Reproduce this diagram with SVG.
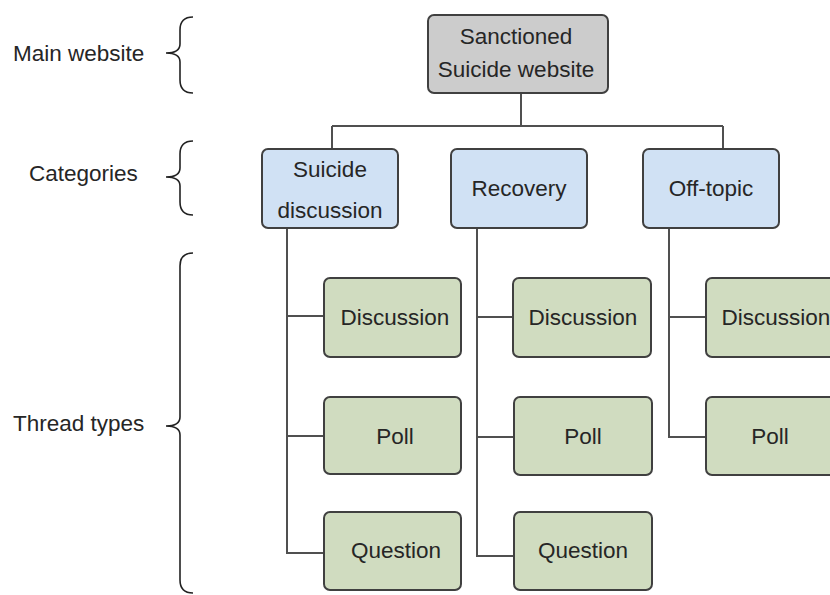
<svg xmlns="http://www.w3.org/2000/svg" width="830" height="595" viewBox="0 0 830 595">
<style>
text{font-family:"Liberation Sans",Arial,sans-serif;font-size:22.5px;fill:#262626;text-anchor:middle}
.lbl{text-anchor:start}
.box{stroke:#404040;stroke-width:2}
.top{fill:#cccccc}
.cat{fill:#d0e1f4}
.thr{fill:#d0dcc0}
.conn{fill:none;stroke:#505050;stroke-width:2}
.brace{fill:none;stroke:#222;stroke-width:1.6}
</style>
<rect width="830" height="595" fill="#ffffff"/>
<g id="labels">
<text class="lbl" x="13" y="61">Main website</text>
<path class="brace" d="M193,17 Q180,17 180,30 L180,44 Q180,53 166,53 Q180,53 180,62 L180,80 Q180,93 193,93"/>
<text class="lbl" x="29" y="181">Categories</text>
<path class="brace" d="M193,141 Q180,141 180,154 L180,168 Q180,177 166,177 Q180,177 180,186 L180,202 Q180,215 193,215"/>
<text class="lbl" x="13" y="431">Thread types</text>
<path class="brace" d="M193,253 Q180,253 180,266 L180,417 Q180,426 166,426 Q180,426 180,435 L180,580 Q180,593 193,593"/>
</g>
<g id="connectors">
<path class="conn" d="M521,93 V126 M332,126 H723 M332,126 V149 M723,126 V149"/>
<path class="conn" d="M287,228 V553 H324 M287,316 H324 M287,436 H324"/>
<path class="conn" d="M477,228 V556 H513 M477,317 H513 M477,437 H513"/>
<path class="conn" d="M669,228 V437 H706 M669,317 H706"/>
</g>
<g id="site">
<rect class="box top" x="428" y="15" width="180" height="78" rx="6"/>
<text x="516" y="44">Sanctioned</text>
<text x="516" y="77">Suicide website</text>
</g>
<g id="cat-suicide">
<rect class="box cat" x="262" y="149" width="136" height="79" rx="6"/>
<text x="330" y="177">Suicide</text>
<text x="330" y="218">discussion</text>
</g>
<g id="cat-recovery">
<rect class="box cat" x="451" y="149" width="136" height="79" rx="6"/>
<text x="519" y="196">Recovery</text>
</g>
<g id="cat-offtopic">
<rect class="box cat" x="643" y="149" width="136" height="79" rx="6"/>
<text x="711" y="196">Off-topic</text>
</g>
<g id="s-discussion">
<rect class="box thr" x="324" y="278" width="137" height="79" rx="6"/>
<text x="395" y="325">Discussion</text>
</g>
<g id="s-poll">
<rect class="box thr" x="324" y="397" width="137" height="77" rx="6"/>
<text x="395" y="444">Poll</text>
</g>
<g id="s-question">
<rect class="box thr" x="324" y="512" width="137" height="78" rx="6"/>
<text x="396" y="558">Question</text>
</g>
<g id="r-discussion">
<rect class="box thr" x="513" y="278" width="138" height="79" rx="6"/>
<text x="583" y="325">Discussion</text>
</g>
<g id="r-poll">
<rect class="box thr" x="514" y="397" width="138" height="78" rx="6"/>
<text x="583" y="444">Poll</text>
</g>
<g id="r-question">
<rect class="box thr" x="514" y="512" width="138" height="78" rx="6"/>
<text x="583" y="558">Question</text>
</g>
<g id="o-discussion">
<rect class="box thr" x="706" y="278" width="137" height="79" rx="6"/>
<text x="776" y="325">Discussion</text>
</g>
<g id="o-poll">
<rect class="box thr" x="706" y="397" width="137" height="78" rx="6"/>
<text x="770" y="444">Poll</text>
</g>
</svg>
